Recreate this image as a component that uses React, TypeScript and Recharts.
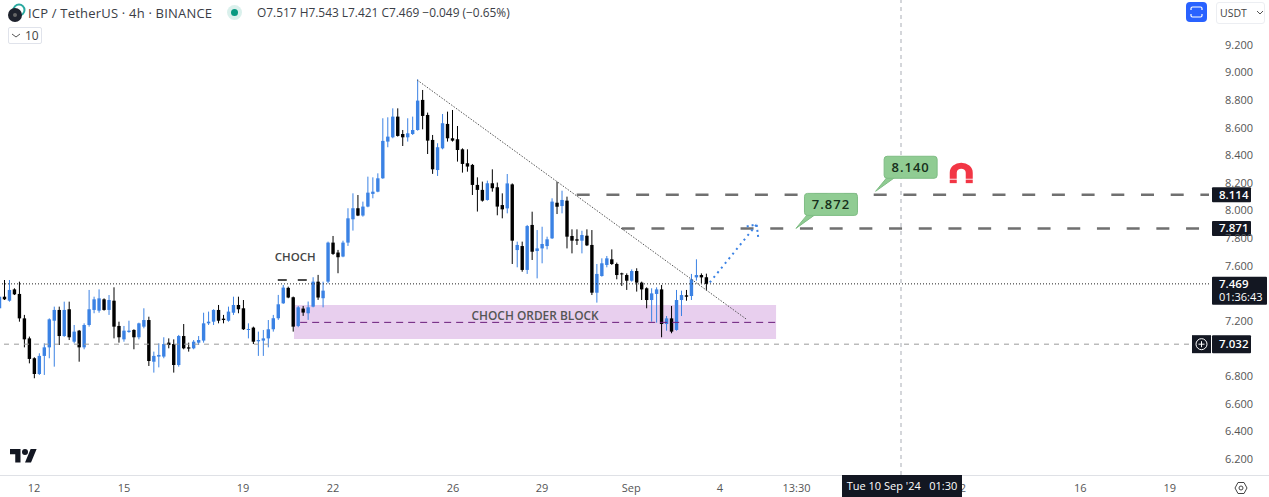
import { Bar, ComposedChart, ReferenceArea, ReferenceDot, ReferenceLine, XAxis, YAxis } from "recharts"

const opens = [
  7.292, 7.376, 7.347, 7.429, 7.396, 7.219, 7.074, 6.93, 6.816, 6.947,
  7.009, 7.202, 7.28, 7.091, 7.285, 7.05, 7.13, 7.009, 7.171, 7.28,
  7.275, 7.357, 7.28, 7.347, 7.164, 7.067, 7.12, 7.135, 7.082, 7.159,
  7.207, 6.905, 6.942, 6.942, 7.043, 7.033, 6.881, 7.091, 7.009, 7.002,
  7.043, 7.058, 7.183, 7.195, 7.28, 7.217, 7.202, 7.26, 7.316, 7.292,
  7.137, 7.152, 7.053, 7.058, 7.074, 7.14, 7.22, 7.328, 7.44, 7.372,
  7.164, 7.29, 7.256, 7.304, 7.485, 7.365, 7.485, 7.768, 7.696, 7.667,
  7.768, 7.937, 8.017, 7.964, 8.029, 8.121, 8.137, 8.234, 8.5, 8.531,
  8.681, 8.555, 8.531, 8.555, 8.584, 8.802, 8.693, 8.512, 8.294, 8.451,
  8.628, 8.524, 8.517, 8.444, 8.343, 8.331, 8.186, 8.15, 8.077, 8.198,
  8.169, 8.04, 8.016, 8.19, 7.714, 7.743, 7.57, 7.896, 7.707, 7.726,
  7.743, 7.799, 8.057, 8.033, 8.072, 7.816, 7.792, 7.782, 7.818, 7.751,
  7.405, 7.526, 7.606, 7.647, 7.613, 7.545, 7.533, 7.492, 7.562, 7.478,
  7.437, 7.352, 7.396, 7.429, 7.178, 7.219, 7.135, 7.352, 7.386, 7.381,
  7.516, 7.533, 7.517,
]
const highs = [
  7.4, 7.497, 7.497, 7.437, 7.485, 7.244, 7.087, 6.937, 6.966, 7.038,
  7.219, 7.304, 7.304, 7.34, 7.34, 7.171, 7.135, 7.183, 7.425, 7.376,
  7.429, 7.364, 7.388, 7.444, 7.195, 7.164, 7.202, 7.14, 7.188, 7.292,
  7.231, 6.978, 7.038, 7.082, 7.074, 7.067, 7.099, 7.178, 7.043, 7.062,
  7.091, 7.26, 7.268, 7.285, 7.316, 7.244, 7.304, 7.376, 7.376, 7.352,
  7.183, 7.159, 7.123, 7.135, 7.207, 7.244, 7.389, 7.461, 7.449, 7.377,
  7.309, 7.309, 7.341, 7.517, 7.534, 7.485, 7.775, 7.816, 7.715, 7.782,
  8.017, 8.125, 8.113, 8.065, 8.246, 8.241, 8.27, 8.669, 8.676, 8.741,
  8.741, 8.584, 8.669, 8.681, 8.951, 8.874, 8.71, 8.548, 8.488, 8.7,
  8.717, 8.729, 8.613, 8.451, 8.444, 8.338, 8.241, 8.21, 8.217, 8.299,
  8.203, 8.125, 8.265, 8.197, 7.775, 7.775, 7.896, 7.992, 7.859, 7.883,
  7.811, 8.089, 8.209, 8.144, 8.101, 7.864, 7.864, 7.854, 7.864, 7.859,
  7.613, 7.654, 7.671, 7.719, 7.623, 7.55, 7.545, 7.574, 7.582, 7.485,
  7.444, 7.437, 7.444, 7.461, 7.236, 7.309, 7.425, 7.42, 7.425, 7.541,
  7.647, 7.545, 7.543,
]
const lows = [
  7.28, 7.352, 7.34, 7.388, 7.195, 7.009, 6.893, 6.785, 6.809, 6.809,
  6.93, 6.869, 7.026, 7.085, 7.062, 7.038, 6.905, 6.995, 7.159, 7.256,
  7.26, 7.275, 7.244, 7.074, 7.043, 7.05, 7.115, 6.995, 7.067, 7.147,
  6.874, 6.826, 6.864, 6.93, 7.002, 6.826, 6.869, 6.995, 6.978, 6.995,
  7.026, 7.043, 7.171, 7.171, 7.183, 7.183, 7.195, 7.244, 7.256, 7.135,
  7.074, 7.033, 6.947, 6.947, 7.009, 7.123, 7.208, 7.324, 7.365, 7.123,
  7.155, 7.237, 7.208, 7.299, 7.353, 7.299, 7.473, 7.679, 7.546, 7.662,
  7.744, 7.855, 7.96, 7.956, 8.024, 8.089, 8.133, 8.23, 8.459, 8.524,
  8.536, 8.468, 8.5, 8.548, 8.579, 8.589, 8.41, 8.266, 8.251, 8.444,
  8.5, 8.5, 8.355, 8.275, 8.282, 8.113, 7.993, 8.065, 8.072, 8.137,
  7.966, 7.944, 7.98, 7.613, 7.589, 7.557, 7.541, 7.642, 7.509, 7.618,
  7.719, 7.794, 7.975, 7.98, 7.726, 7.69, 7.751, 7.69, 7.743, 7.388,
  7.333, 7.521, 7.589, 7.606, 7.502, 7.454, 7.425, 7.485, 7.413, 7.352,
  7.292, 7.195, 7.188, 7.082, 7.13, 7.111, 7.13, 7.236, 7.347, 7.352,
  7.492, 7.473, 7.421,
]
const closes = [
  7.376, 7.357, 7.425, 7.393, 7.219, 7.067, 6.925, 6.816, 6.947, 7.009,
  7.212, 7.28, 7.091, 7.28, 7.082, 7.123, 7.009, 7.171, 7.285, 7.357,
  7.364, 7.28, 7.352, 7.159, 7.082, 7.13, 7.13, 7.082, 7.183, 7.207,
  6.91, 6.947, 6.954, 7.033, 7.026, 6.881, 7.091, 7.002, 7.0, 7.05,
  7.062, 7.183, 7.195, 7.28, 7.202, 7.207, 7.268, 7.316, 7.285, 7.14,
  7.142, 7.05, 7.062, 7.074, 7.14, 7.22, 7.321, 7.442, 7.37, 7.159,
  7.299, 7.261, 7.299, 7.485, 7.37, 7.42, 7.768, 7.686, 7.662, 7.768,
  7.944, 8.017, 7.964, 8.029, 8.13, 8.137, 8.234, 8.505, 8.536, 8.681,
  8.541, 8.531, 8.56, 8.584, 8.797, 8.686, 8.507, 8.299, 8.459, 8.633,
  8.524, 8.507, 8.439, 8.338, 8.319, 8.186, 8.15, 8.072, 8.198, 8.162,
  8.029, 8.009, 8.197, 7.782, 7.751, 7.57, 7.888, 7.702, 7.726, 7.758,
  7.792, 8.065, 8.028, 8.077, 7.811, 7.782, 7.782, 7.823, 7.748, 7.405,
  7.541, 7.618, 7.654, 7.613, 7.533, 7.541, 7.492, 7.562, 7.478, 7.429,
  7.352, 7.4, 7.429, 7.178, 7.219, 7.123, 7.352, 7.388, 7.376, 7.502,
  7.533, 7.516, 7.469,
]

// 7.000 and 7.400 sit behind the price tags in the reference
const priceTicks = [6.2, 6.4, 6.6, 6.8, 7.2, 7.6, 7.8, 8.0, 8.2, 8.4, 8.6, 8.8, 9.0, 9.2]
const timeTicks = [6.83, 24.9, 48.8, 66.9, 91, 108.9, 126.8, 144.6, 160, 192.8, 217, 235]
const timeLabels = ["12", "15", "19", "22", "26", "29", "Sep", "4", "13:30", "12", "16", "19"]

const UI_FONT = "'Open Sans', sans-serif"
const UP = "#3b82e4"
const DOWN = "#000000"
const TAG = "#131722"
const X_END = 242.87

const candles = opens.map((open, i) => ({
  i,
  open,
  high: highs[i],
  low: lows[i],
  close: closes[i],
  range: [lows[i], highs[i]],
}))

function Candle(props: any) {
  const { x, y, width, height, payload } = props
  const h = Math.abs(height)
  const perUnit = h / (payload.high - payload.low)
  const top = y + (payload.high - Math.max(payload.open, payload.close)) * perUnit
  const bottom = y + (payload.high - Math.min(payload.open, payload.close)) * perUnit
  const mid = x + width / 2
  const color = payload.close >= payload.open ? UP : DOWN
  return (
    <g>
      <line x1={mid} x2={mid} y1={y} y2={y + h} stroke={color} strokeWidth={1} />
      <rect x={mid - 1.7} y={top} width={3.4} height={Math.max(bottom - top, 1)} fill={color} />
    </g>
  )
}

function PriceTag({ cx, cy, value, extra, plus }: any) {
  const wide = Boolean(extra)
  const w = wide ? 55 : 39
  const h = wide ? 28 : 15
  const top = wide ? cy - 7 : cy - 7.5
  return (
    <g fontFamily={UI_FONT} fontSize={11.5} fill="#ffffff">
      {plus && (
        <g>
          <rect x={cx - 17} y={cy - 9} width={19} height={18} fill={TAG} />
          <circle cx={cx - 7.5} cy={cy} r={5.5} fill="none" stroke="#ffffff" strokeWidth={1} />
          <path d={`M${cx - 10.5} ${cy}h6M${cx - 7.5} ${cy - 3}v6`} stroke="#ffffff" strokeWidth={1} />
        </g>
      )}
      <rect x={cx + 3} y={plus ? cy - 9 : top} width={w} height={plus ? 18 : h} fill={TAG} rx={1} />
      <text x={cx + 10} y={cy + 4} fontWeight={600}>
        {value}
      </text>
      {extra && (
        <text x={cx + 10} y={cy + 17} fontSize={11}>
          {extra}
        </text>
      )}
    </g>
  )
}

function Callout({ cx, cy, value, bx }: any) {
  // cx, cy is the tip of the tail, the box sits up and to the right of it
  const left = cx + 8.5
  const top = cy - 35
  return (
    <g>
      <path
        d={`M${cx} ${cy}L${left + 3} ${top + 21}L${left + bx} ${top + 21}Z`}
        fill="#8fcb92"
        stroke="#7fbd84"
      />
      <rect x={left} y={top} width={53} height={22} rx={3} fill="#90cc93" stroke="#7fbd84" />
      <text
        x={left + 26.5}
        y={top + 15.5}
        textAnchor="middle"
        fontFamily={UI_FONT}
        fontSize={13}
        fontWeight={600}
        letterSpacing={1}
        fill="#17301b"
      >
        {value}
      </text>
    </g>
  )
}

function NoteText({ cx, cy, value, size, color }: any) {
  return (
    <text
      x={cx}
      y={cy}
      textAnchor="middle"
      dominantBaseline="middle"
      fontFamily={UI_FONT}
      fontSize={size}
      fontWeight={600}
      fill={color}
    >
      {value}
    </text>
  )
}

function Magnet({ cx, cy }: any) {
  return (
    <g fill="#f23645">
      <path
        d={`M${cx - 11.5} ${cy + 6}v-6a11.5 10 0 0 1 23 0v6h-7v-6a4.5 4 0 0 0 -9 0v6z`}
      />
      <rect x={cx - 11.5} y={cy + 7} width={7} height={3.5} />
      <rect x={cx + 4.5} y={cy + 7} width={7} height={3.5} />
    </g>
  )
}

const pos = (x: number, y: number, extra: any = {}): any => ({ position: "absolute", left: x, top: y, ...extra })

export default function App() {
  return (
    <div style={{ position: "absolute", left: 0, top: 0, width: 1269, height: 497, background: "#fff", overflow: "hidden", fontFamily: UI_FONT }}>
      <ComposedChart width={1269} height={497} data={candles} margin={{ top: 0, right: 0, bottom: 0, left: 0 }}>
        <XAxis
          dataKey="i"
          type="number"
          domain={[0, X_END]}
          allowDataOverflow
          ticks={timeTicks}
          interval={0}
          height={22}
          axisLine={false}
          tickLine={false}
          tickMargin={3}
          tick={{ fontSize: 11, fill: "#555", fontFamily: UI_FONT }}
          tickFormatter={(v: number) => timeLabels[timeTicks.indexOf(v)]}
        />
        <YAxis
          orientation="right"
          type="number"
          domain={[6.084, 9.526]}
          allowDataOverflow
          ticks={priceTicks}
          interval={0}
          width={60}
          axisLine={false}
          tickLine={false}
          tickMargin={10}
          tick={{ fontSize: 11, fill: "#555", fontFamily: UI_FONT }}
          tickFormatter={(v: number) => v.toFixed(3)}
        />
        <ReferenceArea x1={59.06} x2={155.9} y1={7.07} y2={7.316} fill="#e8cfee" fillOpacity={1} stroke="none" />
        <ReferenceLine x={181} stroke="#a9adb5" strokeDasharray="4 4" />
        <ReferenceLine y={7.032} stroke="#9a9a9a" strokeDasharray="5 5" />
        <ReferenceLine y={7.469} stroke="#222" strokeDasharray="1 2" />
        <ReferenceLine
          segment={[{ x: 60.3, y: 7.19 }, { x: 155.9, y: 7.19 }]}
          stroke="#6a1b7a"
          strokeDasharray="7 5"
        />
        <ReferenceLine
          segment={[{ x: 115.85, y: 8.114 }, { x: X_END, y: 8.114 }]}
          stroke="#707070"
          strokeWidth={2.5}
          strokeDasharray="13 16.7"
        />
        <ReferenceLine
          segment={[{ x: 124.9, y: 7.871 }, { x: X_END, y: 7.871 }]}
          stroke="#707070"
          strokeWidth={2.5}
          strokeDasharray="13 16.7"
        />
        <ReferenceLine
          segment={[{ x: 55.8, y: 7.497 }, { x: 62, y: 7.497 }]}
          stroke="#111"
          strokeWidth={1.5}
          strokeDasharray="9 11"
        />
        <Bar dataKey="range" barSize={4} shape={Candle} isAnimationActive={false} />
        <ReferenceLine
          segment={[{ x: 83.8, y: 8.946 }, { x: 149.9, y: 7.214 }]}
          stroke="#555"
          strokeDasharray="1.5 1.5"
        />
        <ReferenceLine
          segment={[{ x: 142.6, y: 7.48 }, { x: 152, y: 7.9 }]}
          stroke={UP}
          strokeWidth={2}
          strokeDasharray="2 4"
        />
        <ReferenceLine
          segment={[{ x: 150, y: 7.885 }, { x: 152, y: 7.9 }]}
          stroke={UP}
          strokeWidth={2}
          strokeDasharray="2 3"
        />
        <ReferenceLine
          segment={[{ x: 152.3, y: 7.81 }, { x: 152, y: 7.9 }]}
          stroke={UP}
          strokeWidth={2}
          strokeDasharray="2 3"
        />
        <ReferenceDot x={59.3} y={7.658} r={0} shape={(p: any) => <NoteText {...p} value="CHOCH" size={11.5} color="#444" />} />
        <ReferenceDot x={107.5} y={7.228} r={0} shape={(p: any) => <NoteText {...p} value="CHOCH ORDER BLOCK" size={11.9} color="#555" />} />
        <ReferenceDot x={159.9} y={7.871} r={0} shape={(p: any) => <Callout {...p} value="7.872" bx={11} />} />
        <ReferenceDot x={175.9} y={8.14} r={0} shape={(p: any) => <Callout {...p} value="8.140" bx={11} />} />
        <ReferenceDot x={193.1} y={8.275} r={0} shape={(p: any) => <Magnet {...p} />} />
        <ReferenceDot x={X_END} y={8.114} r={0} shape={(p: any) => <PriceTag {...p} value="8.114" />} />
        <ReferenceDot x={X_END} y={7.871} r={0} shape={(p: any) => <PriceTag {...p} value="7.871" />} />
        <ReferenceDot x={X_END} y={7.469} r={0} shape={(p: any) => <PriceTag {...p} value="7.469" extra="01:36:43" />} />
        <ReferenceDot x={X_END} y={7.032} r={0} shape={(p: any) => <PriceTag {...p} value="7.032" plus />} />
      </ComposedChart>

      {/* header */}
      <svg style={pos(7, 3)} width={20} height={20}>
        <circle cx={12} cy={7} r={5.5} fill="none" stroke="#29a9a0" strokeWidth={2} />
        <circle cx={8} cy={12} r={7} fill="#1e222d" />
        <circle cx={8} cy={12} r={2} fill="#666" />
      </svg>
      <div style={pos(28, 4, { fontSize: 13, color: "#3a3d46", letterSpacing: 0.2, whiteSpace: "pre" })}>{"ICP / TetherUS · 4h · BINANCE"}</div>
      <svg style={pos(226, 4)} width={17} height={17}>
        <circle cx={8.5} cy={8.5} r={7.5} fill="#089981" fillOpacity={0.15} />
        <circle cx={8.5} cy={8.5} r={3.5} fill="#089981" />
      </svg>
      <div style={pos(257, 4, { fontSize: 11.9, color: "#3a3d46", whiteSpace: "pre" })}>{"O7.517 H7.543 L7.421 C7.469 −0.049 (−0.65%)"}</div>
      <div style={pos(8, 27, { width: 16, height: 15, border: "1px solid #e0e3eb", borderRadius: 2, fontSize: 12, color: "#444", lineHeight: "15px", paddingLeft: 16, boxSizing: "content-box" })}>10</div>
      <svg style={pos(11, 32)} width={10} height={8}>
        <path d="M1 2l4 3 4-3" fill="none" stroke="#555" />
      </svg>

      {/* top right controls */}
      <div style={pos(1186, 2, { width: 21, height: 20, background: "#2962ff", borderRadius: 4 })} />
      <svg style={pos(1190, 6)} width={13} height={12}>
        <path d="M1 4V2.5Q1 1 2.5 1h8Q12 1 12 2.5V4M1 8v1.5Q1 11 2.5 11h8Q12 11 12 9.5V8" fill="none" stroke="#fff" strokeWidth={1.2} />
      </svg>
      <div style={pos(1216, 2, { width: 49, height: 22, border: "1px solid #eceef2", borderRadius: 3, boxSizing: "border-box", fontSize: 10.5, color: "#444", lineHeight: "20px", paddingLeft: 3 })}>USDT</div>
      <svg style={pos(1256, 10)} width={8} height={6}>
        <path d="M1 1l3 3 3-3" fill="none" stroke="#555" />
      </svg>

      {/* logo, time strip */}
      <svg style={pos(10, 449)} width={27} height={15} viewBox="0 0 36 20">
        <path d="M14 18H7V7H0V0h14v18zM28 18h-8l7.5-18h8L28 18z" fill="#131722" />
        <circle cx={20} cy={4} r={4} fill="#131722" />
      </svg>
      <div style={pos(0, 475, { width: 1269, height: 1, background: "#dfe1e6" })} />
      <div style={pos(842, 475, { width: 120, height: 22, background: TAG, color: "#fff", fontSize: 11, lineHeight: "22px", textAlign: "center", whiteSpace: "pre" })}>{"Tue 10 Sep '24   01:30"}</div>
      <svg style={pos(1234, 481)} width={14} height={14}>
        <path d="M4 1.5h6L13 7l-3 5.5H4L1 7z" fill="none" stroke="#444" />
        <circle cx={7} cy={7} r={2} fill="none" stroke="#444" />
      </svg>
    </div>
  )
}
